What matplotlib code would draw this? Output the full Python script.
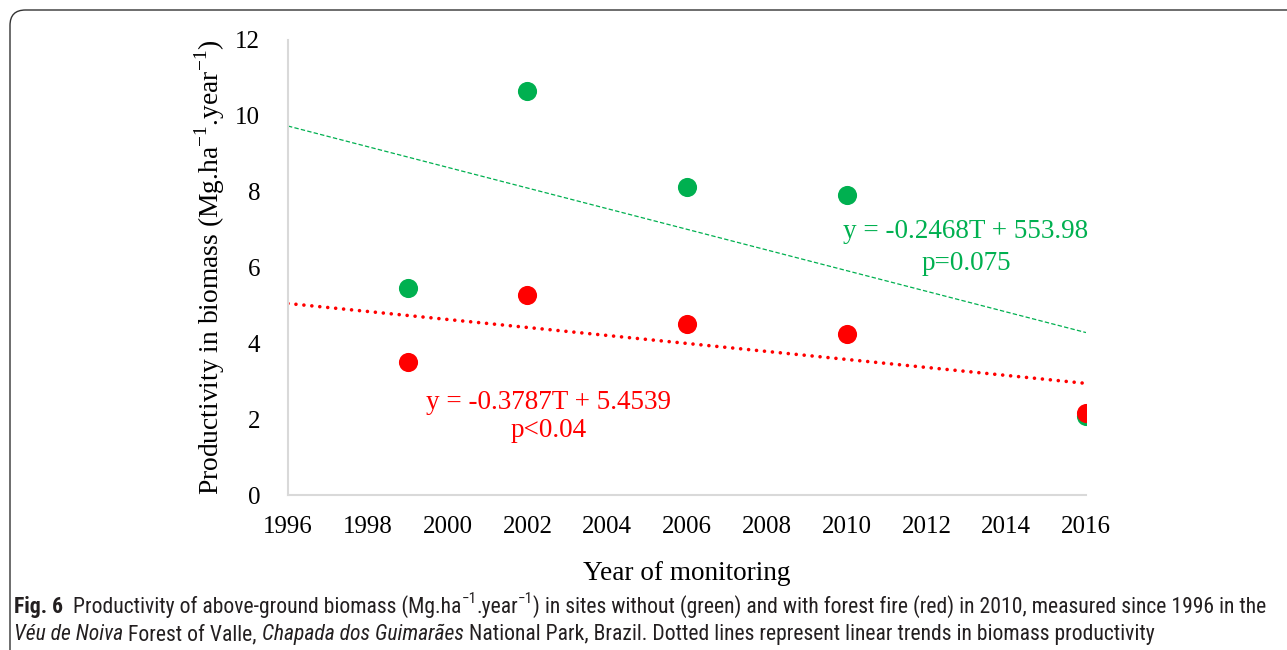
import numpy as np
import matplotlib
matplotlib.use('Agg')
import matplotlib.pyplot as plt
from matplotlib.patches import FancyBboxPatch

years = [1999, 2002, 2006, 2010, 2016]
without_fire = [5.45, 10.65, 8.12, 7.92, 2.08]
with_fire = [3.50, 5.27, 4.50, 4.25, 2.15]

x_ticks = list(range(1996, 2017, 2))
y_ticks = list(range(0, 13, 2))

GREEN = '#00b050'
RED = '#ff0000'
SERIF = ['Liberation Serif', 'DejaVu Serif']
CAPTION = ['Roboto Condensed', 'Roboto', 'DejaVu Sans']

W, H = 1287, 650
fig = plt.figure(figsize=(W / 100, H / 100), dpi=100)


def fx(px):
    return px / W


def fy(py):
    return 1 - py / H


ax = fig.add_axes([fx(288), fy(495), fx(1086) - fx(288), fy(40) - fy(495)])

# trend lines from least squares on the data
t = np.array([1996, 2016])
g_fit = np.polyfit(years, without_fire, 1)
r_fit = np.polyfit(years, with_fire, 1)
ax.plot(t, np.polyval(g_fit, t), color=GREEN, lw=0.9,
        linestyle=(0, (3.5, 1.8)), zorder=2)
ax.plot(t, np.polyval(r_fit, t), color=RED, lw=2.6,
        linestyle=(0, (0.01, 2.2)), dash_capstyle='round', zorder=2)

ax.scatter(years, without_fire, s=190, color=GREEN, zorder=3, linewidths=0)
ax.scatter(years, with_fire, s=190, color=RED, zorder=4, linewidths=0)

ax.set_xlim(1996, 2016)
ax.set_ylim(0, 12)
ax.set_xticks(x_ticks)
ax.set_yticks(y_ticks)
ax.tick_params(length=0, labelsize=18, pad=15)
ax.tick_params(axis='y', pad=20)
for lab in ax.get_xticklabels() + ax.get_yticklabels():
    lab.set_family(SERIF)
for side in ['top', 'right']:
    ax.spines[side].set_visible(False)
for side in ['left', 'bottom']:
    ax.spines[side].set_color('#d9d9d9')
    ax.spines[side].set_linewidth(1.5)

ax.set_ylabel(r'Productivity in biomass (Mg.ha$^{\mathregular{-1}}$.year$^{\mathregular{-1}}$)',
              family=SERIF, fontsize=19.8, labelpad=6)
ax.set_xlabel('Year of monitoring', family=SERIF, fontsize=19.6, labelpad=17)

ax.text(2012.99, 6.95, 'y = -0.2468T + 553.98', color=GREEN, family=SERIF,
        fontsize=19.5, ha='center', va='center')
ax.text(2012.99, 6.1, 'p=0.075', color=GREEN, family=SERIF,
        fontsize=19.5, ha='center', va='center')
ax.text(2002.52, 2.43, 'y = -0.3787T + 5.4539', color=RED, family=SERIF,
        fontsize=19.5, ha='center', va='center')
ax.text(2002.52, 1.69, 'p<0.04', color=RED, family=SERIF,
        fontsize=19.5, ha='center', va='center')

# rounded frame around the figure
frame = FancyBboxPatch((fx(10), fy(700)), fx(1400), fy(10) - fy(700),
                       boxstyle='round,pad=0,rounding_size=0.012',
                       transform=fig.transFigure, fill=False,
                       edgecolor='#333333', lw=1.0, mutation_aspect=W / H)
fig.add_artist(frame)

# caption, drawn piece by piece
renderer = fig.canvas.get_renderer()


def draw_pieces(pieces, x0, base, size):
    x = x0
    for txt, style in pieces:
        kw = dict(family=CAPTION, fontsize=size, va='baseline', ha='left',
                  color='#231f20')
        yy = base
        if style == 'b':
            kw['weight'] = 'bold'
        elif style == 'i':
            kw['style'] = 'italic'
        elif style == 'sup':
            kw['fontsize'] = size * 0.7
            yy = base - size * 0.45 * 1.389
        tt = fig.text(fx(x), fy(yy), txt, **kw)
        x += tt.get_window_extent(renderer).width
    return x


line1 = [('Fig. 6', 'b'), ('  Productivity of above-ground biomass (Mg.ha', ''),
         ('\u22121', 'sup'), ('.year', ''), ('\u22121', 'sup'),
         (') in sites without (green) and with forest fire (red) in 2010, '
          'measured since 1996 in the', '')]
line2 = [('V\u00e9u de Noiva', 'i'), (' Forest of Valle, ', ''),
         ('Chapada dos Guimar\u00e3es', 'i'),
         (' National Park, Brazil. Dotted lines represent linear trends in '
          'biomass productivity', '')]

# fit the caption size so line 1 spans the reference width
probe = fig.text(0, 0, ''.join(p[0] for p in line1), family=CAPTION,
                 fontsize=13)
w13 = probe.get_window_extent(renderer).width
probe.remove()
cap_size = 13 * 1262 / w13
draw_pieces(line1, 14, 613, cap_size)
draw_pieces(line2, 14, 640, cap_size)

fig.savefig('out.png', dpi=100)
